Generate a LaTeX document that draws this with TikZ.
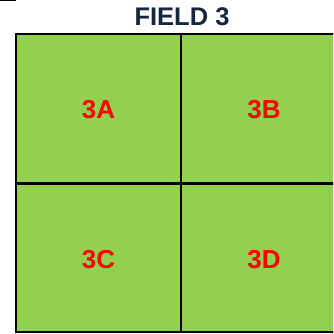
\documentclass[tikz,border=0pt]{standalone}
\usepackage{fontspec}
\setmainfont{Liberation Sans}
\definecolor{fieldgreen}{HTML}{92D050}
\definecolor{titlenavy}{HTML}{15263F}
\definecolor{labelred}{HTML}{FF0000}
\tikzset{
  gridline/.style={line width=2.5pt, draw=black},
  plotlabel/.style={text=labelred, font=\bfseries\fontsize{26}{26}\selectfont, inner sep=0pt, anchor=base},
  titlelabel/.style={text=titlenavy, font=\bfseries\fontsize{25.5}{25.5}\selectfont, inner sep=0pt, anchor=base}
}
\begin{document}
\begin{tikzpicture}[x=1pt,y=-1pt]
  \useasboundingbox (0,0) rectangle (333,334);
  \begin{scope}
    \clip (0,0) rectangle (333,334);
    \fill[fieldgreen] (16,34) rectangle (345,332);
    \draw[gridline] (345,34) -- (16,34) -- (16,332) -- (345,332);
    \draw[gridline] (181,34) -- (181,332);
    \draw[gridline] (16,183.5) -- (345,183.5);
    \draw[line width=1.5pt] (0,0.6) -- (16,0.6);
  \end{scope}
  \node[titlelabel] (title) at (182,26) {FIELD 3};
  \node[plotlabel] (a) at (98.5,118.5) {3A};
  \node[plotlabel] (b) at (264,118.5) {3B};
  \node[plotlabel] (c) at (98.5,268) {3C};
  \node[plotlabel] (d) at (264,268) {3D};
\end{tikzpicture}
\end{document}
